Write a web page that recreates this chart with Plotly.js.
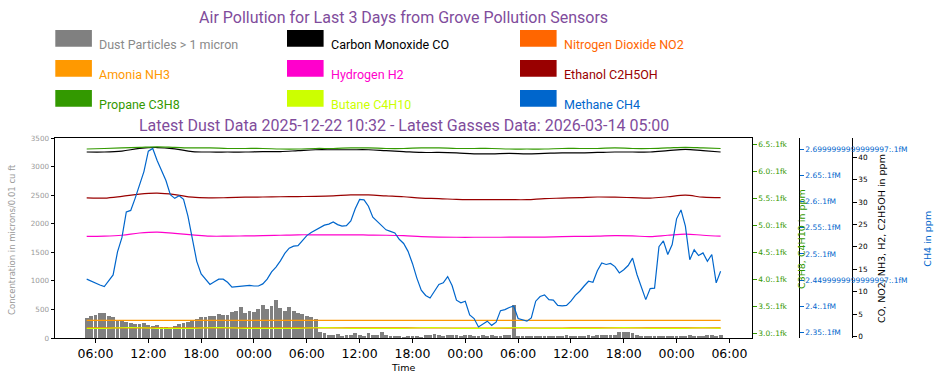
<!DOCTYPE html>
<html>
<head>
<meta charset="utf-8">
<script src="https://cdn.plot.ly/plotly-3.0.1.min.js"></script>
<style>html,body{margin:0;padding:0;background:#fff;}#chart{width:942px;height:385px;}</style>
</head>
<body>
<div id="chart"></div>
<script>
// ---------------- DATA ----------------
const titleText = 'Air Pollution for Last 3 Days from Grove Pollution Sensors';
const subtitleText = 'Latest Dust Data 2025-12-22 10:32 - Latest Gasses Data: 2026-03-14 05:00';

const seriesNames = ['Dust Particles > 1 micron', 'Carbon Monoxide CO', 'Nitrogen Dioxide NO2',
  'Amonia NH3', 'Hydrogen H2', 'Ethanol C2H5OH', 'Propane C3H8', 'Butane C4H10', 'Methane CH4'];
const seriesColors = ['#808080', '#000000', '#ff6600', '#ff9900', '#ff00cc', '#990000', '#339900', '#ccff00', '#0066cc'];
const legendTextColors = ['#8a8a8a', '#000000', '#ff6600', '#ff9900', '#ff00cc', '#990000', '#339900', '#ccff00', '#0066cc'];

// time bases (UTC-naive)
const seriesStart = '2026-03-11T05:00:00Z';
const fineStepMinutes = 30;    // dust and methane
const coarseStepMinutes = 120; // other gases
const xRange = ['2026-03-11 01:24', '2026-03-14 08:36'];
const xTick0 = '2026-03-11 00:00';

// dust (microns/0.01 cu ft), every 30 min
const dust = [
  350,380,400,440,430,380,360,320,300,280,
  260,250,240,260,230,210,220,190,200,180,
  210,250,260,280,300,330,370,360,390,380,
  420,410,400,450,470,540,430,480,460,500,
  580,510,560,660,520,480,540,470,440,420,
  390,370,330,110,80,60,50,70,40,60,
  45,90,50,40,80,60,50,110,60,40,
  30,35,25,30,40,30,25,60,50,70,
  55,40,60,45,50,35,60,45,40,30,
  50,35,45,40,30,50,45,580,35,30,
  40,35,30,40,35,30,40,35,30,45,
  40,35,30,40,45,40,55,60,50,60,
  60,100,110,100,90,60,35,30,40,35,
  30,35,40,35,30,40,35,45,40,35,
  40,45,50,40,45
];

// methane (ppm, blue axis), every 30 min
const ch4 = [
  2.452,2.448,2.445,2.441,2.438,2.450,2.460,2.504,2.531,2.580,
  2.583,2.606,2.630,2.657,2.696,2.701,2.678,2.659,2.640,2.613,
  2.606,2.611,2.604,2.572,2.530,2.486,2.462,2.453,2.442,2.447,
  2.452,2.452,2.446,2.437,2.438,2.438,2.439,2.440,2.439,2.439,
  2.443,2.452,2.466,2.475,2.487,2.501,2.511,2.515,2.516,2.525,
  2.535,2.541,2.546,2.551,2.555,2.557,2.561,2.556,2.553,2.554,
  2.563,2.586,2.604,2.603,2.591,2.570,2.562,2.553,2.546,2.543,
  2.540,2.528,2.520,2.505,2.482,2.454,2.431,2.421,2.416,2.429,
  2.442,2.445,2.457,2.440,2.412,2.407,2.410,2.384,2.377,2.361,
  2.367,2.372,2.364,2.370,2.392,2.394,2.398,2.401,2.377,2.375,
  2.372,2.378,2.410,2.419,2.422,2.413,2.412,2.402,2.401,2.402,
  2.410,2.421,2.429,2.439,2.448,2.446,2.468,2.483,2.480,2.482,
  2.476,2.464,2.470,2.478,2.492,2.461,2.436,2.413,2.434,2.435,
  2.514,2.525,2.499,2.518,2.567,2.584,2.553,2.489,2.508,2.497,
  2.502,2.486,2.499,2.445,2.467
];

// other gases, every 2 hours (ppm)
const co = [41.2,41.2,41.4,42.0,42.2,41.9,41.3,41.2,41.2,41.2,41.3,41.3,41.5,41.7,41.7,41.7,41.7,41.5,41.3,41.1,41.1,41.0,40.8,40.8,40.9,40.8,40.9,41.0,41.0,41.1,41.2,41.2,41.2,41.5,41.8,41.5,41.2];
const no2 = [1.90,1.90,1.91,1.92,1.92,1.91,1.90,1.90,1.89,1.89,1.90,1.90,1.90,1.91,1.91,1.90,1.90,1.89,1.89,1.88,1.88,1.88,1.87,1.87,1.87,1.88,1.88,1.88,1.89,1.89,1.90,1.91,1.92,1.91,1.90,1.89,1.89];
const nh3 = [3.58,3.58,3.58,3.57,3.57,3.58,3.58,3.57,3.57,3.57,3.58,3.58,3.58,3.57,3.57,3.57,3.58,3.58,3.57,3.57,3.57,3.57,3.58,3.58,3.57,3.57,3.57,3.58,3.58,3.57,3.57,3.57,3.58,3.58,3.57,3.57,3.57];
const h2 = [22.35,22.4,22.6,23.1,23.3,23.0,22.7,22.4,22.4,22.45,22.5,22.6,22.7,22.7,22.7,22.7,22.65,22.6,22.5,22.3,22.2,22.15,22.15,22.15,22.17,22.17,22.2,22.3,22.35,22.4,22.5,22.45,22.3,22.6,22.85,22.6,22.4];
const ethanol = [30.93,30.9,31.3,31.8,32.0,31.7,31.1,30.95,31.0,31.1,31.15,31.2,31.25,31.3,31.4,31.6,31.6,31.4,31.2,30.9,30.8,30.6,30.55,30.55,30.55,30.55,30.8,30.9,31.0,31.15,31.1,31.0,30.9,31.2,31.55,31.1,31.0];
const propane = [6.42,6.43,6.44,6.45,6.46,6.45,6.44,6.44,6.43,6.43,6.43,6.42,6.42,6.43,6.43,6.44,6.44,6.43,6.43,6.44,6.44,6.43,6.43,6.43,6.42,6.42,6.42,6.43,6.43,6.43,6.44,6.43,6.43,6.44,6.45,6.44,6.43];
const butane = [3.10,3.10,3.11,3.11,3.10,3.10,3.10,3.11,3.11,3.10,3.10,3.10,3.10,3.11,3.11,3.10,3.10,3.10,3.10,3.11,3.11,3.10,3.10,3.10,3.11,3.11,3.10,3.10,3.10,3.10,3.11,3.11,3.10,3.10,3.10,3.11,3.10];

// axis ticks
const dustTicks = [0,500,1000,1500,2000,2500,3000,3500];
const ppmTicks = [0,5,10,15,20,25,30,35,40];
const c3c4TickVals = [3.0,3.5,4.0,4.5,5.0,5.5,6.0,6.5];
const c3c4TickText = ['3.0:.1fk','3.5:.1fk','4.0:.1fk','4.5:.1fk','5.0:.1fk','5.5:.1fk','6.0:.1fk','6.5:.1fk'];
const ch4TickVals = [2.35,2.40,2.45,2.50,2.55,2.60,2.65,2.70];
const ch4TickText = ['2.35:.1fM','2.4:.1fM','2.4499999999999997:.1fM','2.5:.1fM','2.55:.1fM','2.6:.1fM','2.65:.1fM','2.6999999999999997:.1fM'];

const dustRange = [0, 3500];
const ppmRange = [-0.358, 44.33];
const c3c4Range = [2.920, 6.624];
const ch4Range = [2.3399, 2.721];

// ---------------- LAYOUT HELPERS ----------------
function timesFor(n, stepMin) {
  const t0 = Date.parse(seriesStart);
  const out = [];
  for (let i = 0; i < n; i++) {
    out.push(new Date(t0 + i * stepMin * 60000).toISOString().slice(0, 19).replace('T', ' '));
  }
  return out;
}
const fineT = timesFor(dust.length, fineStepMinutes);
const ch4T = timesFor(ch4.length, fineStepMinutes);
const coarseT = timesFor(co.length, coarseStepMinutes);

const W = 942, H = 385;
const M = {l: 55, r: 42, t: 138, b: 47};
const PW = W - M.l - M.r, PH = H - M.t - M.b;
const px2x = px => (px - M.l) / PW;
const py2y = py => (H - M.b - py) / PH;

const purple = '#7f4c9c';
const lw = 1.2;

const traces = [
  {type: 'bar', x: fineT, y: dust, width: 26 * 60000, marker: {color: seriesColors[0], line: {width: 0}}, yaxis: 'y', name: seriesNames[0]},
  {type: 'scatter', mode: 'lines', x: coarseT, y: co, line: {color: seriesColors[1], width: lw, shape: 'spline'}, yaxis: 'y2', name: seriesNames[1]},
  {type: 'scatter', mode: 'lines', x: coarseT, y: no2, line: {color: seriesColors[2], width: lw, shape: 'spline'}, yaxis: 'y2', name: seriesNames[2]},
  {type: 'scatter', mode: 'lines', x: coarseT, y: nh3, line: {color: seriesColors[3], width: lw, shape: 'spline'}, yaxis: 'y2', name: seriesNames[3]},
  {type: 'scatter', mode: 'lines', x: coarseT, y: h2, line: {color: seriesColors[4], width: lw, shape: 'spline'}, yaxis: 'y2', name: seriesNames[4]},
  {type: 'scatter', mode: 'lines', x: coarseT, y: ethanol, line: {color: seriesColors[5], width: lw, shape: 'spline'}, yaxis: 'y2', name: seriesNames[5]},
  {type: 'scatter', mode: 'lines', x: coarseT, y: propane, line: {color: seriesColors[6], width: lw, shape: 'spline'}, yaxis: 'y3', name: seriesNames[6]},
  {type: 'scatter', mode: 'lines', x: coarseT, y: butane, line: {color: seriesColors[7], width: lw, shape: 'spline'}, yaxis: 'y3', name: seriesNames[7]},
  {type: 'scatter', mode: 'lines', x: ch4T, y: ch4, line: {color: seriesColors[8], width: lw, shape: 'linear'}, yaxis: 'y4', name: seriesNames[8]}
];

const tickFontSmall = (c, s) => ({family: 'DejaVu Sans', size: s, color: c});

const annotations = [
  {text: subtitleText, xref: 'paper', yref: 'paper', x: px2x(403.6), y: py2y(125), xanchor: 'center', yanchor: 'middle',
   showarrow: false, font: {family: 'Roboto', size: 16, color: purple}},
  {text: 'Concentration in microns/0.01 cu ft', xref: 'paper', yref: 'paper', x: px2x(12), y: py2y(240), textangle: -90,
   xanchor: 'center', yanchor: 'middle', showarrow: false, font: {family: 'DejaVu Sans', size: 8.5, color: '#999999'}},
  {text: 'C3H8, C4H10 in ppm', xref: 'paper', yref: 'paper', x: px2x(801), y: py2y(239), textangle: -90,
   xanchor: 'center', yanchor: 'middle', showarrow: false, font: {family: 'DejaVu Sans', size: 9.5, color: seriesColors[6]}},
  {text: 'CO, NO2, NH3, H2, C2H5OH in ppm', xref: 'paper', yref: 'paper', x: px2x(881), y: py2y(239), textangle: -90,
   xanchor: 'center', yanchor: 'middle', showarrow: false, font: {family: 'DejaVu Sans', size: 9.5, color: '#000000'}},
  {text: 'CH4 in ppm', xref: 'paper', yref: 'paper', x: px2x(926.7), y: py2y(239), textangle: -90,
   xanchor: 'center', yanchor: 'middle', showarrow: false, font: {family: 'DejaVu Sans', size: 9.5, color: seriesColors[8]}}
];
const shapes = [];
const colX = [55.3, 287, 520];
const rowY = [30, 60, 90];
const sqW = 36.6, sqH = 16.7;
seriesNames.forEach((name, i) => {
  const r = Math.floor(i / 3), c = i % 3;
  shapes.push({type: 'rect', xref: 'paper', yref: 'paper',
    x0: px2x(colX[c]), x1: px2x(colX[c] + sqW), y0: py2y(rowY[r] + sqH), y1: py2y(rowY[r]),
    fillcolor: seriesColors[i], line: {width: 0}});
  annotations.push({text: name, xref: 'paper', yref: 'paper', x: px2x(colX[c] + 42), y: py2y(rowY[r] + 14.3),
    xanchor: 'left', yanchor: 'middle', showarrow: false, font: {family: 'Roboto', size: 12.5, color: legendTextColors[i]}});
});

const layout = {
  width: W, height: H,
  margin: M,
  paper_bgcolor: '#ffffff', plot_bgcolor: '#ffffff',
  showlegend: false,
  bargap: 0,
  font: {family: 'DejaVu Sans', color: '#000'},
  title: {text: titleText, x: 403.6 / W, xanchor: 'center', xref: 'container', y: 1 - 17.3 / H, yanchor: 'middle', yref: 'container',
    font: {family: 'Roboto', size: 16, color: purple}},
  xaxis: {type: 'date', domain: [0, px2x(752.3)], range: xRange, tickformat: '%H:%M', tick0: xTick0, dtick: 6 * 3600000,
    ticks: 'outside', ticklen: 4, tickcolor: '#000', showline: true, linecolor: '#000', linewidth: 1, mirror: true,
    showgrid: false, zeroline: false, tickfont: tickFontSmall('#000', 12.5),
    title: {text: 'Time', font: {family: 'DejaVu Sans', size: 9.5, color: '#000'}, standoff: 4}},
  yaxis: {range: dustRange, tickvals: dustTicks, ticks: 'outside', ticklen: 3.5, tickcolor: '#000', showline: true,
    linecolor: '#000', linewidth: 1, showgrid: false, zeroline: false, tickfont: tickFontSmall('#999999', 7.2)},
  yaxis2: {overlaying: 'y', side: 'right', anchor: 'free', position: px2x(852.3), range: ppmRange, tickvals: ppmTicks,
    ticks: 'outside', ticklen: 3.5, tickcolor: '#000', showline: true, linecolor: '#000', linewidth: 1,
    showgrid: false, zeroline: false, tickfont: tickFontSmall('#000', 7.3)},
  yaxis3: {overlaying: 'y', side: 'right', anchor: 'x', range: c3c4Range, tickvals: c3c4TickVals, ticktext: c3c4TickText,
    ticks: 'outside', ticklen: 3.5, tickcolor: seriesColors[6], showline: true, linecolor: '#000', linewidth: 1,
    showgrid: false, zeroline: false, tickfont: tickFontSmall(seriesColors[6], 7.5)},
  yaxis4: {overlaying: 'y', side: 'right', anchor: 'free', position: px2x(799.3), range: ch4Range, tickvals: ch4TickVals, ticktext: ch4TickText,
    ticks: 'outside', ticklen: 3.5, tickcolor: seriesColors[8], showline: true, linecolor: '#000', linewidth: 1,
    showgrid: false, zeroline: false, tickfont: tickFontSmall(seriesColors[8], 7.5)},
  annotations: annotations,
  shapes: shapes
};

Plotly.newPlot('chart', traces, layout, {staticPlot: true, displayModeBar: false});
</script>
</body>
</html>
